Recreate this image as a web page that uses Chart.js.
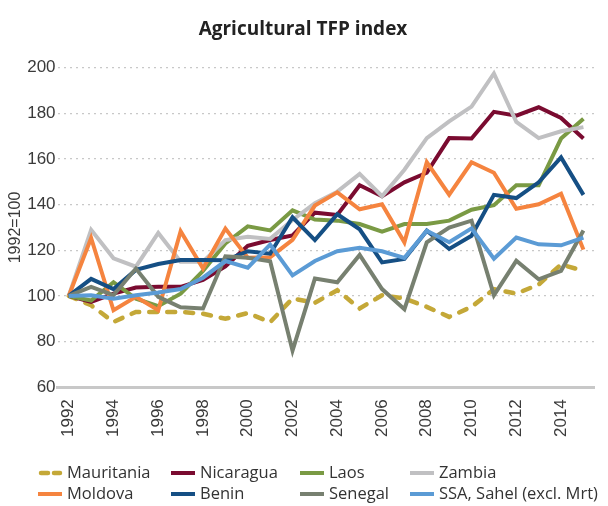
<!DOCTYPE html>
<html>
<head>
<meta charset="utf-8">
<script src="https://cdn.jsdelivr.net/npm/chart.js@4.4.1/dist/chart.umd.min.js"></script>
<style>
  body { margin: 0; background: #fff; }
  #wrap { width: 608px; height: 506px; position: relative; }
</style>
</head>
<body>
<div id="wrap"><canvas id="tfpChart"></canvas></div>
<script>
// Годы (ось X)
const years = ['1992', '1993', '1994', '1995', '1996', '1997', '1998', '1999', '2000', '2001', '2002', '2003',
    '2004', '2005', '2006', '2007', '2008', '2009', '2010', '2011', '2012', '2013', '2014', '2015'];

// Значения индекса по странам (1992=100)
const mauritania = [100, 95.9, 88.6, 93, 93, 93, 92.2, 90, 92.5, 88.5, 98.9, 97, 102.5, 94.5, 100.3, 98.9, 95.2, 90.8, 95.2, 103, 101, 105, 113.8, 111];
const nicaragua = [100, 97.4, 101, 103.7, 104, 104, 107, 113, 122, 124.5, 126.5, 136.5, 135.5, 148.5, 143.7, 149.8, 154, 169.2, 169, 180.7, 179, 182.7, 178, 169];
const laos = [100, 98, 106, 98.8, 95.5, 101, 111, 123, 130.5, 128.7, 137.5, 133.5, 133, 131.5, 128.2, 131.5, 131.5, 133, 137.8, 139.8, 148.5, 148.5, 169, 177.7];
const zambia = [100, 129, 116.5, 112.8, 127.6, 115, 115, 124.5, 125.9, 125, 133.3, 140.6, 145.7, 153.5, 143.7, 155.3, 169.2, 176.5, 183, 197.5, 176.3, 169.2, 172.2, 174];
const moldova = [100, 125.4, 93.7, 99.6, 93.7, 128.4, 112, 129.5, 116.7, 117, 124.6, 139.6, 145.4, 138, 140.2, 123.5, 158.6, 144.4, 158.6, 154, 138.2, 140.2, 144.8, 120.3];
const benin = [100, 107.5, 103, 111.4, 114, 115.7, 115.7, 115.6, 119.6, 118.5, 134.5, 124.5, 135.8, 129.2, 114.7, 116.2, 128.6, 120.6, 126.4, 144.3, 142.9, 149.8, 160.7, 144.3];
const senegal = [100, 104, 100.3, 112, 99.6, 95, 94.5, 117.4, 116.7, 115.2, 76, 107.6, 106, 118, 103, 94.2, 123.5, 130, 133, 100.3, 115.4, 107.3, 111, 128.7];
const ssa = [100, 100.3, 98.8, 100.3, 101.5, 103, 108, 115.3, 112.4, 122.5, 109, 115.3, 119.6, 121.1, 119.6, 116.7, 128.6, 123.5, 129.6, 116.3, 125.6, 122.6, 122.2, 125.6];

// Подписи серий и цвета
const seriesNames = ['Mauritania', 'Nicaragua', 'Laos', 'Zambia', 'Moldova', 'Benin', 'Senegal', 'SSA, Sahel (excl. Mrt)'];
const seriesData = [mauritania, nicaragua, laos, zambia, moldova, benin, senegal, ssa];
const seriesColors = ['#c4a838', '#7a0b30', '#7a9a44', '#c0c0c2', '#f5843f', '#154f84', '#778070', '#5b9bd5'];

const datasets = [];
seriesNames.forEach((name, i) => {
    const ds = {
        label: name,
        data: seriesData[i],
        borderColor: seriesColors[i],
        backgroundColor: seriesColors[i],
        borderWidth: 4,
        pointRadius: 0,
        tension: 0,
        // последние серии рисуются поверх
        order: seriesNames.length - i
    };
    if (name === 'Mauritania') {
        ds.borderDash = [8, 10];
        ds.borderCapStyle = 'round';
        ds.borderWidth = 4.5;
    }
    datasets.push(ds);
});

// Легенда в две строки по четыре колонки
const legendCols = [38, 171, 300, 410];
const legendRows = [473, 494];
const gridLegend = {
    id: 'gridLegend',
    afterDraw(chart) {
        const ctx = chart.ctx;
        ctx.save();
        ctx.font = '16.5px "Open Sans"';
        ctx.textBaseline = 'middle';
        chart.data.datasets.forEach((ds, i) => {
            const x = legendCols[i % 4];
            const y = legendRows[Math.floor(i / 4)];
            ctx.beginPath();
            ctx.strokeStyle = ds.borderColor;
            ctx.lineWidth = ds.borderDash ? 4.5 : 4;
            if (ds.borderDash) {
                ctx.setLineDash([7, 6]);
                ctx.lineCap = 'round';
                ctx.moveTo(x + 3, y);
                ctx.lineTo(x + 22, y);
            } else {
                ctx.setLineDash([]);
                ctx.lineCap = 'butt';
                ctx.moveTo(x, y);
                ctx.lineTo(x + 24, y);
            }
            ctx.stroke();
            ctx.fillStyle = '#333';
            ctx.fillText(ds.label, x + 29, y);
        });
        ctx.restore();
    }
};

const config = {
    type: 'line',
    data: {
        labels: years,
        datasets: datasets
    },
    options: {
        responsive: true,
        maintainAspectRatio: false,
        animation: false,
        layout: {
            padding: { left: 6, right: 8, bottom: 65 }
        },
        plugins: {
            legend: { display: false },
            tooltip: { enabled: false },
            title: {
                display: true,
                text: 'Agricultural TFP index',
                color: '#222',
                font: { family: 'Open Sans', size: 19, weight: 'bold' },
                padding: { top: 18, bottom: 27 }
            }
        },
        scales: {
            x: {
                type: 'category',
                offset: true,
                grid: { display: false },
                border: { display: true, color: '#c8c8c8', width: 3 },
                ticks: {
                    autoSkip: false,
                    maxRotation: 90,
                    minRotation: 90,
                    padding: 4,
                    color: '#3a3a3a',
                    font: { family: 'Liberation Sans', size: 17 },
                    callback: function (value, index) {
                        return index % 2 === 0 ? this.getLabelForValue(value) : '';
                    }
                }
            },
            y: {
                min: 60,
                max: 200,
                ticks: {
                    stepSize: 20,
                    padding: 2,
                    color: '#3a3a3a',
                    font: { family: 'Liberation Sans', size: 17 }
                },
                grid: {
                    drawTicks: false,
                    lineWidth: 1.2,
                    color: c => c.tick && c.tick.value === 60 ? 'rgba(0,0,0,0)' : '#c8c8c8'
                },
                border: { display: false, dash: [2, 4] },
                title: {
                    display: true,
                    text: '1992=100',
                    color: '#3a3a3a',
                    font: { family: 'Liberation Sans', size: 16 },
                    padding: { top: 0, bottom: 0 }
                }
            }
        }
    },
    plugins: [gridLegend]
};

const tfpChart = new Chart(document.getElementById('tfpChart'), config);
</script>
</body>
</html>
